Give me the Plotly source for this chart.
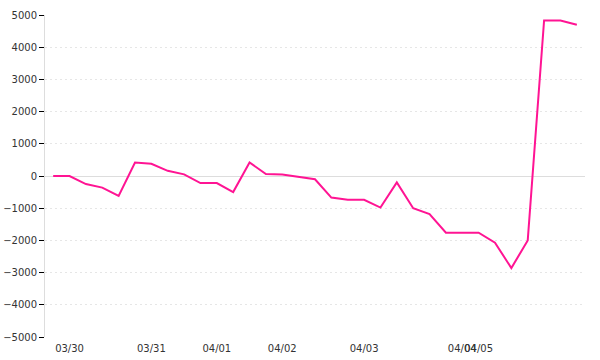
import plotly.graph_objects as go

# data
values = [0, 0, -250, -360, -620, 420, 380, 160, 50, -220, -220, -500, 420, 60, 50, -20,
          -100, -670, -740, -740, -980, -200, -1000, -1180, -1760, -1760, -1760, -2070,
          -2860, -2000, 4830, 4830, 4700]
x_index = list(range(len(values)))
tick_positions = [1, 6, 10, 14, 19, 25, 26]
tick_labels = ["03/30", "03/31", "04/01", "04/02", "04/03", "04/04", "04/05"]
y_ticks = list(range(-5000, 5001, 1000))

fig = go.Figure()
fig.add_trace(go.Scatter(
    x=x_index, y=values, mode="lines",
    line=dict(color="#ff1493", width=2),
    hoverinfo="skip", showlegend=False,
))

fig.update_layout(
    width=600, height=360,
    margin=dict(l=45, r=15, t=15, b=23),
    paper_bgcolor="white", plot_bgcolor="white",
    font=dict(family="DejaVu Sans", size=10, color="#333333"),
    xaxis=dict(
        range=[-0.5, 32.5], tickmode="array",
        tickvals=tick_positions, ticktext=tick_labels, tickangle=0,
        ticklabelstandoff=4,
        showgrid=False, zeroline=False, showline=False, ticks="",
        automargin=False, fixedrange=True,
    ),
    yaxis=dict(
        range=[-5000, 5000], tickmode="array", tickvals=y_ticks,
        showgrid=True, gridcolor="#e6e6e6", griddash="2px,3px", gridwidth=1,
        zeroline=True, zerolinecolor="#dddddd", zerolinewidth=1,
        showline=True, linecolor="#dddddd", linewidth=1,
        ticks="outside", ticklen=5, tickcolor="#000000", tickwidth=1,
        automargin=False, fixedrange=True,
    ),
)

fig.write_html("out.html")
